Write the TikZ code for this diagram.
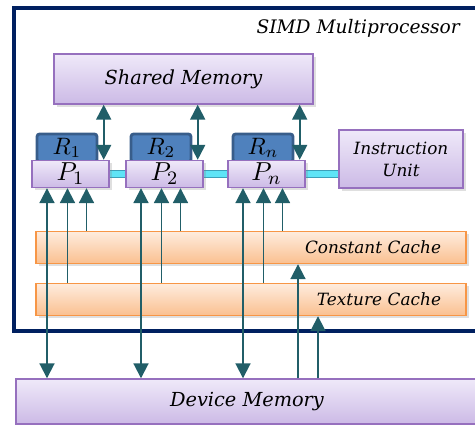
\documentclass[tikz,border=0pt]{standalone}
\usepackage{fontspec}
\setmainfont{DejaVu Serif}
\usetikzlibrary{arrows.meta,calc,shadows,backgrounds}
\definecolor{framenavy}{RGB}{0,32,96}
\definecolor{linkteal}{RGB}{33,94,104}
\definecolor{boxtop}{RGB}{239,233,249}
\definecolor{boxbot}{RGB}{204,186,230}
\definecolor{boxedge}{RGB}{150,112,190}
\definecolor{cachetop}{RGB}{254,236,222}
\definecolor{cachebot}{RGB}{250,192,144}
\definecolor{cacheedge}{RGB}{247,150,70}
\definecolor{regfill}{RGB}{79,129,189}
\definecolor{regedge}{RGB}{56,93,138}
\definecolor{buscyan}{RGB}{95,228,246}
\definecolor{busedge}{RGB}{60,160,185}

\begin{document}
\begin{tikzpicture}[>={Triangle[width=8.5pt,length=8.5pt]},
  txt/.style={font=\fontsize{11}{13}\selectfont\itshape},
  smalltxt/.style={font=\fontsize{9.6}{12.5}\selectfont\itshape},
  membox/.style={txt,draw=boxedge,line width=0.8pt,top color=boxtop,bottom color=boxbot,
    inner sep=0pt,drop shadow={opacity=0.25,shadow xshift=1.5pt,shadow yshift=-1.5pt}},
  procbox/.style={membox,minimum width=1.54cm,minimum height=0.54cm},
  regbox/.style={draw=regedge,line width=1.6pt,fill=regfill,rounded corners=1.5pt,
    inner sep=0pt,minimum width=1.2cm,minimum height=0.56cm},
  cachebox/.style={smalltxt,draw=cacheedge,line width=0.8pt,top color=cachetop,bottom color=cachebot,
    minimum height=0.64cm,inner xsep=0.5cm,text width=7.6cm,align=right,
    drop shadow={opacity=0.25,shadow xshift=1.5pt,shadow yshift=-1.5pt}},
  bus/.style={draw=busedge,line width=0.8pt,double=buscyan,double distance=3pt},
  link/.style={draw=linkteal,line width=1.1pt}]
  \useasboundingbox (0,0) rectangle (9.5,8.5);

  % multiprocessor frame, open to the right
  \draw[framenavy,line width=1.8pt] (0.28,1.88) rectangle (9.8,8.34);
  \node[font=\fontsize{10.6}{13}\selectfont\itshape,anchor=east] (simd) at (9.32,7.94) {SIMD Multiprocessor};

  \node[membox,minimum width=5.18cm,minimum height=1cm] (sm) at (3.67,6.92) {Shared Memory};

  % registers sit behind the processors
  \foreach \i/\x in {1/1.41,2/3.29,n/5.33} {
    \node[regbox] (r\i) at (\x-0.07,5.54) {\scalebox{1.35}{$R_{\i}$}};
    \node[procbox] (p\i) at (\x,5.02) {\scalebox{1.35}{$P_{\i}$}};
  }
  \node[membox,smalltxt,minimum width=2.48cm,minimum height=1.16cm,align=center] (iu) at (8.02,5.32) {Instruction\\Unit};
  \begin{pgfonlayer}{background}
    \draw[bus] (p1.center) -- (p1.center -| iu.west);
  \end{pgfonlayer}

  \node[cachebox] (cc) at (5.02,3.55) {Constant Cache};
  \node[cachebox] (tc) at (5.02,2.51) {Texture Cache};

  \node[membox,minimum width=9.24cm,minimum height=0.9cm] (dm) at (4.94,0.47) {Device Memory};

  % processor links
  \foreach \i in {1,2,n} {
    \path ([xshift=-0.12cm]p\i.north east) coordinate (up\i)
          ([xshift=-0.47cm]p\i.south) coordinate (dn\i)
          ([xshift=-0.06cm]p\i.south) coordinate (tx\i)
          ([xshift=0.32cm]p\i.south) coordinate (ct\i);
    \draw[link,<->] (up\i) -- (up\i |- sm.south);
    \draw[link,<->] (dn\i) -- (dn\i |- dm.north);
    \draw[link,->] (tx\i |- tc.north) -- (tx\i);
    \draw[link,->] (ct\i |- cc.north) -- (ct\i);
  }

  % device memory feeds the caches
  \path ([xshift=0.94cm]cc.south) coordinate (ccin)
        ([xshift=1.34cm]tc.south) coordinate (tcin);
  \draw[link,->] (ccin |- dm.north) -- (ccin);
  \draw[link,->] (tcin |- dm.north) -- (tcin);
\end{tikzpicture}
\end{document}
